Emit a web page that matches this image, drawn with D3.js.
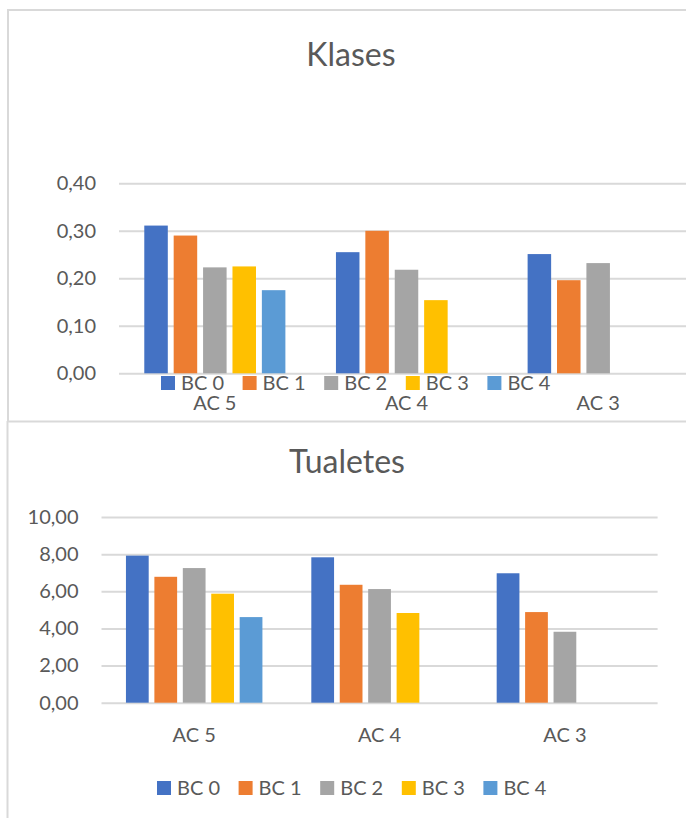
<!DOCTYPE html>
<html>
<head>
<meta charset="utf-8">
<script src="https://cdn.jsdelivr.net/npm/d3@7"></script>
<style>
  body { margin: 0; background: #fff; }
  text { font-family: Lato, "Open Sans", sans-serif; fill: #595959; }
</style>
</head>
<body>
<svg width="686" height="818"></svg>
<script>
// data
const categories = ["AC 5", "AC 4", "AC 3"];
const seriesNames = ["BC 0", "BC 1", "BC 2", "BC 3", "BC 4"];
const seriesColors = ["#4472c4", "#ed7d31", "#a5a5a5", "#ffc000", "#5b9bd5"];

// one row per category, one value per series (null = no bar)
const klasesValues = [
  [0.311, 0.290, 0.223, 0.225, 0.175],
  [0.255, 0.300, 0.218, 0.154, null],
  [0.251, 0.196, 0.232, null, null]
];
const klasesTicks = [0, 0.1, 0.2, 0.3, 0.4];

const tualetesValues = [
  [7.92, 6.78, 7.25, 5.87, 4.61],
  [7.83, 6.35, 6.12, 4.83, null],
  [6.97, 4.88, 3.82, null, null]
];
const tualetesTicks = [0, 2, 4, 6, 8, 10];

const svg = d3.select("svg");
const fmt = v => d3.format(".2f")(v).replace(".", ",");
const grid = "#d9d9d9";

// chart frames
svg.append("path")
  .attr("d", "M8,421 L8,10 L686,10")
  .attr("fill", "none").attr("stroke", grid).attr("stroke-width", 2);
svg.append("line")
  .attr("x1", 7).attr("x2", 686).attr("y1", 421.5).attr("y2", 421.5)
  .attr("stroke", grid).attr("stroke-width", 2);
svg.append("line")
  .attr("x1", 7.5).attr("x2", 7.5).attr("y1", 421).attr("y2", 818)
  .attr("stroke", grid).attr("stroke-width", 2);

function drawChart(opt) {
  const g = svg.append("g");

  const x0 = d3.scaleBand().domain(categories).range([opt.left, opt.right]);
  const x1 = d3.scaleBand().domain(seriesNames)
    .range([0, x0.bandwidth()])
    .paddingInner(0.2)
    .paddingOuter(0.86);
  const y = d3.scaleLinear().domain(opt.domain).range([opt.bottom, opt.top]);

  // title
  g.append("text")
    .attr("x", opt.titleX).attr("y", opt.titleY)
    .attr("text-anchor", "middle")
    .style("font-size", "32px")
    .text(opt.title);

  // gridlines + y labels
  const yAxis = g.append("g")
    .attr("transform", `translate(${opt.left},0)`)
    .call(d3.axisLeft(y).tickValues(opt.ticks).tickFormat(fmt)
      .tickSize(-(opt.gridRight - opt.left)).tickPadding(23));
  yAxis.select(".domain").remove();
  yAxis.selectAll("line").attr("stroke", grid).attr("stroke-width", 2);
  yAxis.selectAll("text").style("font-size", "20px").attr("fill", "#595959");

  // bars
  categories.forEach((c, ci) => {
    const rows = seriesNames.map((s, si) => ({ s, si, v: opt.values[ci][si] }))
      .filter(d => d.v != null);
    g.selectAll(".bar-" + ci)
      .data(rows)
      .enter()
      .append("rect")
      .attr("x", d => x0(c) + x1(d.s))
      .attr("y", d => y(d.v))
      .attr("width", x1.bandwidth())
      .attr("height", d => y(0) - y(d.v))
      .attr("fill", d => seriesColors[d.si]);
  });

  // category labels
  const xAxis = g.append("g")
    .attr("transform", `translate(0,${opt.bottom})`)
    .call(d3.axisBottom(x0).tickSize(0).tickPadding(opt.catPad));
  xAxis.select(".domain").remove();
  xAxis.selectAll("text").style("font-size", "20px").attr("fill", "#595959");

  // legend
  const leg = g.selectAll(".leg")
    .data(seriesNames)
    .enter()
    .append("g")
    .attr("transform", (d, i) => `translate(${opt.legX + i * 81.6},${opt.legY})`);
  leg.append("rect")
    .attr("width", 14).attr("height", 14)
    .attr("fill", (d, i) => seriesColors[i]);
  leg.append("text")
    .attr("x", 20).attr("y", 14)
    .style("font-size", "20px")
    .text(d => d);
}

drawChart({
  title: "Klases", titleX: 351, titleY: 66,
  values: klasesValues, ticks: klasesTicks, domain: [0, 0.4],
  left: 119, right: 694, gridRight: 694,
  top: 183.3, bottom: 373.3, catPad: 23,
  legX: 161, legY: 376
});

drawChart({
  title: "Tualetes", titleX: 347, titleY: 473,
  values: tualetesValues, ticks: tualetesTicks, domain: [0, 10],
  left: 101.5, right: 657.6, gridRight: 657.6,
  top: 517, bottom: 702.7, catPad: 25,
  legX: 157, legY: 781
});
</script>
</body>
</html>
